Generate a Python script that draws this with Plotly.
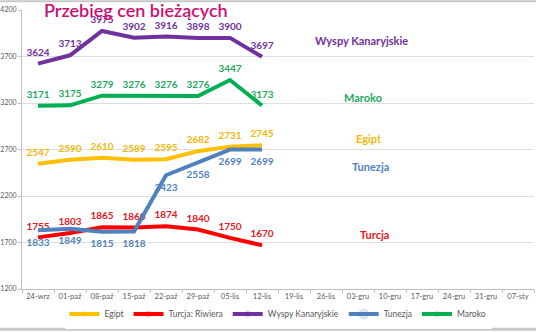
import plotly.graph_objects as go

categories = ["24-wrz", "01-paź", "08-paź", "15-paź", "22-paź", "29-paź", "05-lis", "12-lis",
              "19-lis", "26-lis", "03-gru", "10-gru", "17-gru", "24-gru", "31-gru", "07-sty"]
data_dates = categories[:8]

egipt = [2547, 2590, 2610, 2589, 2595, 2682, 2731, 2745]
turcja = [1755, 1803, 1865, 1860, 1874, 1840, 1750, 1670]
wyspy = [3624, 3713, 3975, 3902, 3916, 3898, 3900, 3697]
tunezja = [1833, 1849, 1815, 1818, 2423, 2558, 2699, 2699]
maroko = [3171, 3175, 3279, 3276, 3276, 3276, 3447, 3173]

y_ticks = [1200, 1700, 2200, 2700, 3200, 3700, 4200]

series = [
    ("Egipt", egipt, "#FFC000", "#F2B705", "top center", 7, "Egipt", 0.678, 0.541),
    ("Turcja: Riwiera", turcja, "#FF0000", "#E8141E", "top center", 7, "Turcja", 0.689, 0.196),
    ("Wyspy Kanaryjskie", wyspy, "#7030A0", "#7030A0", "top center", 7, "Wyspy Kanaryjskie", 0.664, 0.889),
    ("Tunezja", tunezja, "#4F81BD", "#4F81BD", "bottom center", 11, "Tunezja", 0.680, 0.440),
    ("Maroko", maroko, "#00B050", "#1FA85F", "top center", 7, "Maroko", 0.666, 0.688),
]

fig = go.Figure()
annotations = []
for name, vals, lc, tc, tpos, msize, short, ax, ay in series:
    fig.add_trace(go.Scatter(
        x=data_dates, y=vals, name=name,
        mode="lines+markers+text",
        line=dict(color=lc, width=4),
        marker=dict(size=msize, opacity=0, color=lc),
        text=[str(v) for v in vals],
        textposition=tpos,
        textfont=dict(family="Lato", size=10, color=tc, weight="bold"),
        hoverinfo="skip",
    ))
    annotations.append(dict(
        text=short, xref="paper", yref="paper", x=ax, y=ay,
        xanchor="center", yanchor="middle", showarrow=False,
        font=dict(family="Lato", size=11, color=tc, weight="bold"),
    ))

annotations.append(dict(
    text="Przebieg cen bieżących", xref="paper", yref="paper", x=0.223, y=1.0,
    xanchor="center", yanchor="middle", showarrow=False,
    font=dict(family="Lato", size=18, color="#CC0E74", weight=600),
))

fig.update_layout(
    width=536, height=332,
    margin=dict(l=22, r=2, t=10, b=43),
    paper_bgcolor="white", plot_bgcolor="white",
    showlegend=True,
    legend=dict(orientation="h", x=0.5, xanchor="center", y=-0.09, yanchor="middle",
                font=dict(family="Lato", size=8.5, color="#595959"),
                itemwidth=30, tracegroupgap=0),
    annotations=annotations,
    xaxis=dict(
        type="category", categoryorder="array", categoryarray=categories,
        range=[-0.5, len(categories) - 0.5],
        showgrid=False, showline=True, linecolor="#BFBFBF", linewidth=1,
        ticks="outside", tickson="boundaries", ticklen=3, tickcolor="#BFBFBF",
        tickangle=0,
        tickfont=dict(family="Lato", size=7.5, color="#595959"),
        automargin=False, fixedrange=True,
    ),
    yaxis=dict(
        range=[1200, 4200], tickvals=y_ticks, ticktext=[str(t) for t in y_ticks],
        showgrid=True, gridcolor="#DDDDDD", gridwidth=1,
        showline=True, linecolor="#BFBFBF", linewidth=1,
        ticks="outside", ticklen=3, tickcolor="#BFBFBF",
        tickfont=dict(family="Lato", size=7, color="#595959"),
        zeroline=False, automargin=False, fixedrange=True,
    ),
    shapes=[
        dict(type="line", xref="paper", yref="paper", x0=-0.05, x1=1.01,
             y0=1.031, y1=1.031, line=dict(color="#C8C8C8", width=2)),
        dict(type="line", xref="paper", yref="paper", x0=-0.05, x1=1.01,
             y0=-0.144, y1=-0.144, line=dict(color="#C8C8C8", width=3)),
    ],
)

fig.write_html("out.html")
